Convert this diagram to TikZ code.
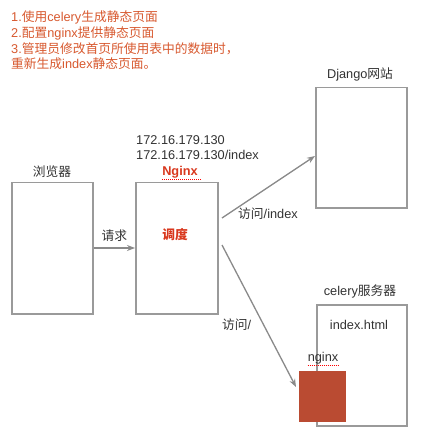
\documentclass[tikz,border=0pt]{standalone}
\usepackage{fontspec}
\setmainfont{Liberation Sans}
\newfontfamily\cjk{Noto Sans CJK SC}
\newcommand\zh[1]{{\cjk #1}}
\usetikzlibrary{arrows.meta}
\definecolor{boxgray}{HTML}{9A9A9A}
\definecolor{linegray}{HTML}{8A8A8A}
\definecolor{txt}{HTML}{333333}
\definecolor{notered}{HTML}{D8592F}
\definecolor{hot}{HTML}{D9381E}
\definecolor{brick}{HTML}{BA4B32}
\tikzset{
  box/.style={draw=boxgray, line width=1.5bp, fill=white},
  lbl/.style={text=txt, font=\fontsize{12.8}{15}\selectfont, inner sep=0pt},
  conn/.style={draw=linegray, line width=1.3bp, -{Stealth[length=8bp,width=6bp]}},
  squiggle/.style={draw=red, line width=0.8bp, dash pattern=on 1bp off 1bp}
}
\begin{document}
\begin{tikzpicture}[x=1bp,y=-1bp]
\useasboundingbox[fill=white] (0,0) rectangle (421,436);
% notes
\node[text=notered, font=\fontsize{12.8}{15.7}\selectfont, anchor=north west, align=left, inner sep=0pt] (notes) at (11,11)
 {1.\zh{使用}celery\zh{生成静态页面}\\2.\zh{配置}nginx\zh{提供静态页面}\\3.\zh{管理员修改首页所使用表中的数据时，}\\\zh{重新生成}index\zh{静态页面。}};
% boxes
\node[box, minimum width=81bp, minimum height=131bp, anchor=north west, inner sep=0pt] (browser) at (11,182) {};
\node[box, minimum width=82bp, minimum height=131bp, anchor=north west, inner sep=0pt] (nginx) at (135,182) {};
\node[box, minimum width=91bp, minimum height=120bp, anchor=north west, inner sep=0pt] (django) at (315,87) {};
\node[box, minimum width=90bp, minimum height=121bp, anchor=north west, inner sep=0pt] (celery) at (316,304) {};
\node[fill=brick, minimum width=47bp, minimum height=51bp, anchor=north west, inner sep=0pt] (nsq) at (299,371) {};
% labels
\node[lbl] (lbrowser) at (52,172) {\zh{浏览器}};
\node[lbl, anchor=west] (ip1) at (136,140) {172.16.179.130};
\node[lbl, anchor=west] (ip2) at (136,155) {172.16.179.130/index};
\node[lbl, text=hot, font=\fontsize{12.8}{15}\bfseries] (lnginx) at (180,172) {Nginx};
\draw[squiggle] (lnginx.south west) ++(0,1.5) -- ++(39,0);
\node[lbl, text=hot, font=\fontsize{12.8}{15}\selectfont\cjk\bfseries] (disp) at (175,235) {调度};
\node[lbl] (ldjango) at (360,74) {Django\zh{网站}};
\node[lbl] (lcelery) at (360,291) {celery\zh{服务器}};
\node[lbl] (lindex) at (359,325) {index.html};
\node[lbl] (lsmall) at (323,358) {nginx};
\draw[squiggle] (lsmall.south west) ++(0,1.5) -- ++(31,0);
% connectors
\coordinate (a1) at (222,218);
\coordinate (a2) at (222,245);
\draw[conn] (browser.east |- 0,248) -- (nginx.west |- 0,248) node[midway, above=6bp, lbl] (lreq) {\zh{请求}};
\draw[conn] (a1) -- (django.west |- 0,156);
\draw[conn] (a2) -- (296,387);
\node[lbl, anchor=west] (lvi) at (238,214) {\zh{访问}/index};
\node[lbl, anchor=west] (lv) at (222,325) {\zh{访问}/};
\end{tikzpicture}
\end{document}
